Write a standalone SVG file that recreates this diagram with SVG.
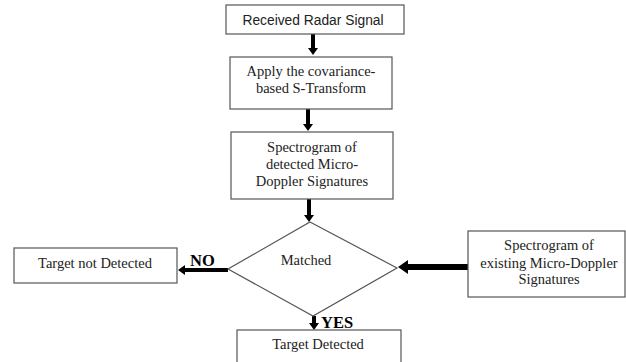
<svg xmlns="http://www.w3.org/2000/svg" width="626" height="362" viewBox="0 0 626 362">
<style>
.box{fill:#fff;stroke:#555;stroke-width:1.2}
.t{font-family:"Liberation Serif","Times New Roman",serif;font-size:14.5px;fill:#222;text-anchor:middle}
.s{font-family:"Liberation Sans",Arial,sans-serif;font-size:13.8px;fill:#222;text-anchor:middle}
.b{font-family:"Liberation Serif","Times New Roman",serif;font-size:16.5px;font-weight:bold;fill:#000}
.sh{stroke:#000;stroke-width:4;fill:none}
.shw{stroke:#000;stroke-width:6;fill:none}
</style>
<defs>
<marker id="ah" markerUnits="userSpaceOnUse" viewBox="0 0 7 10" markerWidth="7" markerHeight="10" refX="0" refY="5" orient="auto"><path d="M0,0 L7,5 L0,10 Z" fill="#000"/></marker>
<marker id="ahw" markerUnits="userSpaceOnUse" viewBox="0 0 10 14" markerWidth="10" markerHeight="14" refX="0" refY="7" orient="auto"><path d="M0,0 L10,7 L0,14 Z" fill="#000"/></marker>
</defs>
<rect width="626" height="362" fill="#fff"/>
<g id="connectors">
<line class="sh" x1="313" y1="34" x2="313" y2="48" marker-end="url(#ah)"/>
<line class="sh" x1="308" y1="109" x2="308" y2="124" marker-end="url(#ah)"/>
<line class="sh" x1="309" y1="199" x2="309" y2="215" marker-end="url(#ah)"/>
<line class="sh" x1="314" y1="316" x2="314" y2="323" marker-end="url(#ah)"/>
<line class="sh" x1="228" y1="270" x2="185" y2="270" marker-end="url(#ah)"/>
<line class="shw" x1="468" y1="267" x2="408" y2="267" marker-end="url(#ahw)"/>
<text class="b" x="190" y="266">NO</text>
<text class="b" x="321" y="328">YES</text>
</g>
<g id="received">
<rect class="box" x="226" y="5" width="178" height="29"/>
<text class="s" x="313" y="25">Received Radar Signal</text>
</g>
<g id="apply">
<rect class="box" x="230" y="57" width="162" height="52"/>
<text class="t" x="311" y="76">Apply the covariance-</text>
<text class="t" x="311" y="93">based S-Transform</text>
</g>
<g id="spectrogram-detected">
<rect class="box" x="231" y="132" width="162" height="67"/>
<text class="t" x="312" y="152">Spectrogram of</text>
<text class="t" x="312" y="169">detected Micro-</text>
<text class="t" x="312" y="186">Doppler Signatures</text>
</g>
<g id="matched">
<polygon points="310,222 397,268 313,316 228,269" fill="#fff" stroke="#555" stroke-width="1.2"/>
<text class="t" x="306" y="265">Matched</text>
</g>
<g id="not-detected">
<rect class="box" x="14" y="248" width="163" height="35"/>
<text class="t" x="95" y="268">Target not Detected</text>
</g>
<g id="spectrogram-existing">
<rect class="box" x="468" y="231" width="157" height="66"/>
<text class="t" x="549" y="250">Spectrogram of</text>
<text class="t" x="549" y="268">existing Micro-Doppler</text>
<text class="t" x="549" y="284">Signatures</text>
</g>
<g id="detected">
<rect class="box" x="237" y="330" width="164" height="40"/>
<text class="t" x="318" y="349">Target Detected</text>
</g>
</svg>
